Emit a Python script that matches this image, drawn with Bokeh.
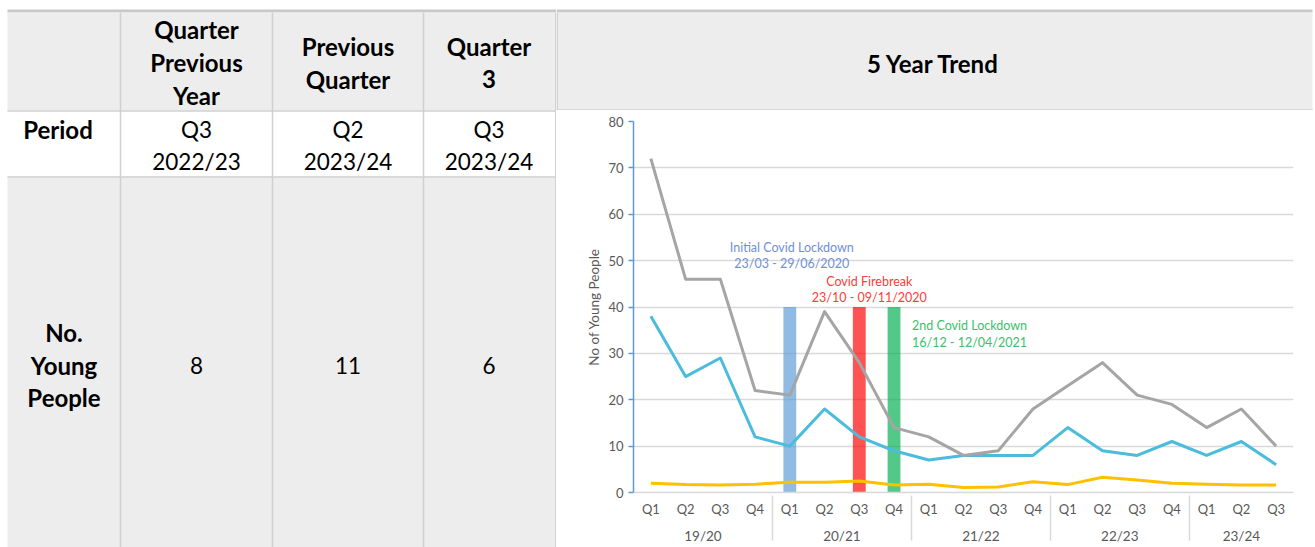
from bokeh.plotting import figure
from bokeh.layouts import row, column
from bokeh.models import Range1d, FactorRange, ColumnDataSource, FixedTicker, BoxAnnotation
from bokeh.core.properties import value
from bokeh.embed import file_html
from bokeh.resources import INLINE

FONT = "Lato"

# ---------------- data ----------------
col_headers = [["Quarter", "Previous", "Year"], ["Previous", "Quarter"], ["Quarter", "3"]]
period_label = "Period"
period_values = [["Q3", "2022/23"], ["Q2", "2023/24"], ["Q3", "2023/24"]]
count_label = ["No.", "Young", "People"]
count_values = ["8", "11", "6"]
trend_title = "5 Year Trend"

years = ["19/20", "20/21", "21/22", "22/23", "23/24"]
quarters = ["Q1", "Q2", "Q3", "Q4"]
factors = [(y, q) for y in years for q in quarters][:19]

series_grey = [72, 46, 46, 22, 21, 39, 28, 14, 12, 8, 9, 18, 23, 28, 21, 19, 14, 18, 10]
series_blue = [38, 25, 29, 12, 10, 18, 12, 9, 7, 8, 8, 8, 14, 9, 8, 11, 8, 11, 6]
series_yellow = [2.0, 1.7, 1.6, 1.8, 2.2, 2.2, 2.5, 1.6, 1.8, 1.1, 1.2, 2.3, 1.7, 3.3, 2.7, 2.0, 1.8, 1.6, 1.6]

event_names = ["Initial Covid Lockdown", "Covid Firebreak", "2nd Covid Lockdown"]
event_dates = ["23/03 - 29/06/2020", "23/10 - 09/11/2020", "16/12 - 12/04/2021"]
event_quarters = [("20/21", "Q1"), ("20/21", "Q3"), ("20/21", "Q4")]
event_height = [40, 40, 40]

# ---------------- styling ----------------
GREY_BG = "#EDEDED"
BORDER = "#D0D0D0"
TOP_BORDER = "#C8C8C8"
AXIS_GREY = "#D9D9D9"
LABEL_GREY = "#595959"
event_bar_colors = ["#5B9BD5", "#FF0000", "#00B050"]
event_text_colors = ["#6F8FD8", "#FF3B3B", "#3CC06C"]
BOLD_SIZE = "24px"
REG_SIZE = "22.5px"


def blank_fig(w, h, xr, yr):
    f = figure(width=w, height=h, x_range=Range1d(*xr), y_range=Range1d(*yr),
               output_backend="svg", toolbar_location=None,
               x_axis_location=None, y_axis_location=None,
               min_border=0, min_border_left=0, min_border_right=0,
               min_border_top=0, min_border_bottom=0)
    f.outline_line_color = None
    f.background_fill_color = "white"
    f.border_fill_color = "white"
    f.grid.visible = False
    f.frame_align = False
    return f


def add_text(f, x, y, txt, bold=False, color="black", align="center"):
    f.text(x=[x], y=[y], text=[txt], text_font=value(FONT),
           text_font_size=BOLD_SIZE if bold else REG_SIZE,
           text_font_style="bold" if bold else "normal", text_color=color,
           text_align=align, text_baseline="middle")


# ---------------- table (left) ----------------
L = blank_fig(556, 547, (0, 556), (547, 0))
L.quad(left=[7], right=[556], top=[9], bottom=[12], fill_color=TOP_BORDER, line_color=None)
L.quad(left=[7], right=[556], top=[12], bottom=[110], fill_color=GREY_BG, line_color=None)
L.quad(left=[7], right=[556], top=[176], bottom=[547], fill_color=GREY_BG, line_color=None)
for yy in [110.5, 176.5]:
    L.segment(x0=[7], y0=[yy], x1=[556], y1=[yy], line_color=BORDER, line_width=1.5)
for xx in [120, 272, 423, 555.3]:
    L.segment(x0=[xx], y0=[12], x1=[xx], y1=[547], line_color=BORDER, line_width=1.5)

col_cx = [196, 347.5, 488.5]
for cx, lines in zip(col_cx, col_headers):
    n = len(lines)
    for i, t in enumerate(lines):
        add_text(L, cx, 62 + (i - (n - 1) / 2) * 33, t, bold=True)
add_text(L, 57.5, 128.5, period_label, bold=True)
for cx, lines in zip(col_cx, period_values):
    for i, t in enumerate(lines):
        add_text(L, cx, 128.5 + i * 32, t)
for i, t in enumerate(count_label):
    add_text(L, 63.5, 332 + i * 32.5, t, bold=True)
for cx, t in zip(col_cx, count_values):
    add_text(L, cx, 364.5, t)

# ---------------- header of chart column ----------------
H = blank_fig(759, 110, (556, 1315), (110, 0))
H.quad(left=[556], right=[1312], top=[9], bottom=[12], fill_color=TOP_BORDER, line_color=None)
H.quad(left=[556], right=[1312], top=[12], bottom=[110], fill_color=GREY_BG, line_color=None)
H.segment(x0=[556], y0=[109.5], x1=[1312], y1=[109.5], line_color=BORDER, line_width=1.5)
H.segment(x0=[556.7], y0=[12], x1=[556.7], y1=[110], line_color=BORDER, line_width=1.5)
add_text(H, 933, 63, trend_title, bold=True)

# ---------------- chart ----------------
CW, CH = 759, 437
BL, BR, BT, BB = 77, 22, 11, 55
C = figure(width=CW, height=CH,
           x_range=FactorRange(*factors, range_padding=0, group_padding=0, factor_padding=0),
           y_range=Range1d(0, 80), output_backend="svg", toolbar_location=None,
           min_border_left=BL, min_border_right=BR, min_border_top=BT, min_border_bottom=BB)
C.frame_align = False
C.outline_line_color = None
C.background_fill_color = "white"
C.border_fill_color = "white"

ticks = list(range(0, 81, 10))
C.yaxis.ticker = FixedTicker(ticks=ticks)
C.ygrid.ticker = FixedTicker(ticks=ticks)
C.ygrid.grid_line_color = AXIS_GREY
C.ygrid.grid_line_width = 1.5
C.xgrid.visible = False

ya = C.yaxis[0]
ya.axis_line_color = "#5B9BD5"
ya.axis_line_width = 1.5
ya.major_tick_line_color = "#5B9BD5"
ya.major_tick_line_width = 1.5
ya.major_tick_out = 5
ya.major_tick_in = 0
ya.minor_tick_out = 0
ya.minor_tick_in = 0
ya.major_label_standoff = 5
ya.major_label_text_font = FONT
ya.major_label_text_font_size = "13px"
ya.major_label_text_color = LABEL_GREY
ya.axis_label = "No of Young People"
ya.axis_label_text_font = FONT
ya.axis_label_text_font_size = "13.5px"
ya.axis_label_text_font_style = "normal"
ya.axis_label_text_color = LABEL_GREY
ya.axis_label_standoff = 3

xa = C.xaxis[0]
xa.axis_line_color = AXIS_GREY
xa.axis_line_width = 1.5
xa.major_tick_line_color = None
xa.major_tick_out = 0
xa.major_tick_in = 0
xa.major_label_standoff = 8
xa.major_label_text_font = FONT
xa.major_label_text_font_size = "13px"
xa.major_label_text_color = LABEL_GREY
xa.group_text_font = FONT
xa.group_text_font_size = "13.5px"
xa.group_text_font_style = "normal"
xa.group_text_color = LABEL_GREY
xa.separator_line_color = AXIS_GREY
xa.separator_line_width = 1.5

# outer separators of the category axis (left and right edges below the axis)
C.add_layout(BoxAnnotation(left=BL, right=CW - BR, top=CH - BB, bottom=CH + 5,
                           left_units="canvas", right_units="canvas",
                           top_units="canvas", bottom_units="canvas",
                           fill_color=None, fill_alpha=0, line_color=AXIS_GREY, line_width=1.5,
                           editable=False))

# event bars
C.vbar(x=event_quarters, top=event_height, bottom=0, width=0.37,
       fill_color=event_bar_colors, fill_alpha=0.68, line_color=None)

src = ColumnDataSource(dict(x=factors, grey=series_grey, blue=series_blue, yellow=series_yellow))
C.line(x="x", y="yellow", source=src, line_color="#FFC000", line_width=3, line_join="round")
C.line(x="x", y="blue", source=src, line_color="#4BBCDC", line_width=3, line_join="round")
C.line(x="x", y="grey", source=src, line_color="#A5A5A5", line_width=3, line_join="round")

# event annotations (label anchors relative to their quarter)
label_anchor = [("20/21", "Q1"), ("20/21", "Q3"), ("21/22", "Q2")]
label_dx = [2, 10, 6]
label_y = [(52.9, 49.4), (45.5, 42.1), (36.0, 32.4)]
for name, dates, anc, dx, (y1, y2), col in zip(event_names, event_dates, label_anchor,
                                                label_dx, label_y, event_text_colors):
    for t, yy in [(name, y1), (dates, y2)]:
        C.text(x=[anc], y=[yy], text=[t], x_offset=dx, text_font=value(FONT),
               text_font_size="12.5px", text_color=col, text_align="center",
               text_baseline="middle")

layout = row(L, column(H, C))
open("out.html", "w").write(file_html(layout, INLINE))
